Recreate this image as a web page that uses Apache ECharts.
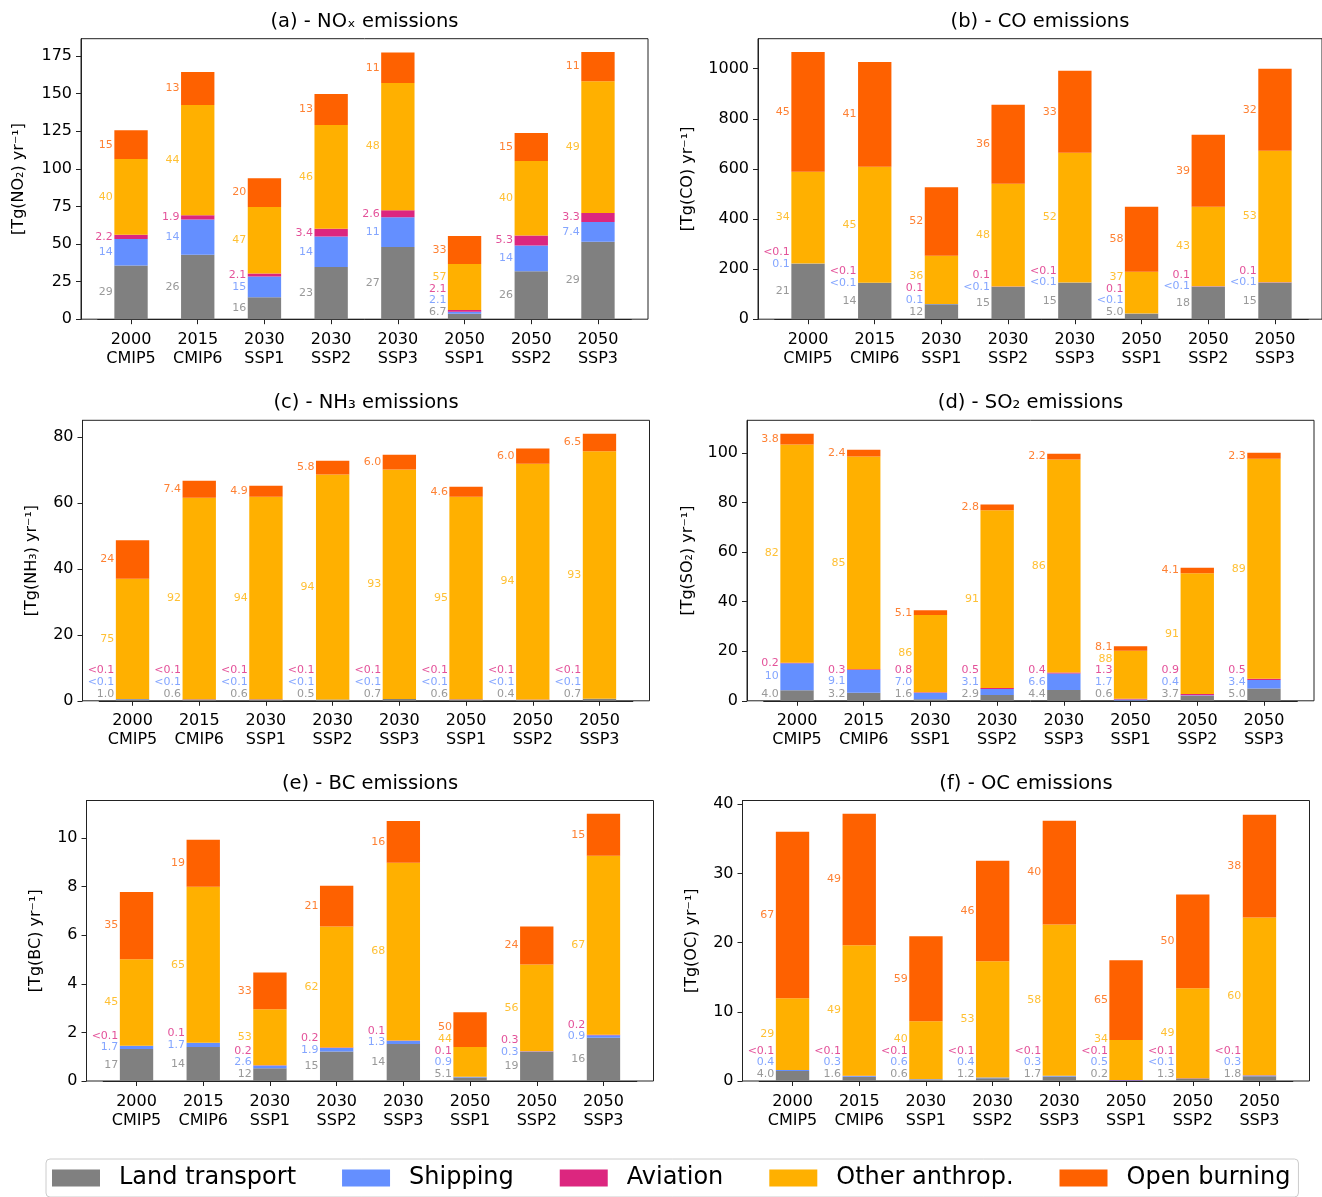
<!DOCTYPE html>
<html><head><meta charset="utf-8">
<script src="https://cdn.jsdelivr.net/npm/echarts@6/dist/echarts.min.js"></script>
<style>html,body{margin:0;padding:0;background:#fff}#c{width:1322px;height:1197px}</style>
</head><body><div id="c"></div>
<script>
const categories = ['2000\nCMIP5','2015\nCMIP6','2030\nSSP1','2030\nSSP2','2030\nSSP3','2050\nSSP1','2050\nSSP2','2050\nSSP3'];
const sources = ['Land transport','Shipping','Aviation','Other anthrop.','Open burning'];
const colors = ['#808080','#648FFF','#DC267F','#FFB000','#FE6100'];

// (a) NOx [Tg(NO2)/yr]
const noxLand     = [35.8, 42.8, 14.6, 34.8, 48.0, 3.7, 31.9, 51.5];
const noxShip     = [17.6, 23.5, 13.8, 20.2, 19.8, 1.2, 17.1, 13.2];
const noxAviation = [2.7, 2.9, 2.0, 5.1, 4.7, 1.2, 6.6, 5.9];
const noxOther    = [50.4, 73.2, 44.3, 69.1, 84.6, 30.7, 49.6, 87.7];
const noxOpen     = [19.2, 22.0, 19.0, 20.6, 20.3, 18.6, 18.6, 19.4];
const noxLandPct  = ['29','26','16','23','27','6.7','26','29'];
const noxShipPct  = ['14','14','15','14','11','2.1','14','7.4'];
const noxAvPct    = ['2.2','1.9','2.1','3.4','2.6','2.1','5.3','3.3'];
const noxOtherPct = ['40','44','47','46','48','57','40','49'];
const noxOpenPct  = ['15','13','20','13','11','33','15','11'];
const noxTicks = [0,25,50,75,100,125,150,175];

// (b) CO
const coLand     = [221, 145, 60, 129, 146, 22, 130, 146];
const coShip     = [1.1, 0.5, 0.6, 0.4, 0.5, 0.3, 0.4, 0.5];
const coAviation = [0.5, 0.5, 0.5, 0.8, 0.5, 0.4, 0.8, 1.0];
const coOther    = [366, 462.5, 192, 411, 517.4, 166.6, 317.5, 525];
const coOpen     = [478, 418.1, 274.2, 315, 327.6, 259.4, 287.7, 327.5];
const coLandPct  = ['21','14','12','15','15','5.0','18','15'];
const coShipPct  = ['0.1','<0.1','0.1','<0.1','<0.1','<0.1','<0.1','<0.1'];
const coAvPct    = ['<0.1','<0.1','0.1','0.1','<0.1','0.1','0.1','0.1'];
const coOtherPct = ['34','45','36','48','52','37','43','53'];
const coOpenPct  = ['45','41','52','36','33','58','39','32'];
const coTicks = [0,200,400,600,800,1000];

// (c) NH3
const nh3Land     = [0.5, 0.4, 0.4, 0.36, 0.52, 0.39, 0.31, 0.57];
const nh3Ship     = [0.03, 0.03, 0.03, 0.03, 0.03, 0.03, 0.03, 0.03];
const nh3Aviation = [0.03, 0.03, 0.03, 0.03, 0.03, 0.03, 0.03, 0.03];
const nh3Other    = [36.44, 61.14, 61.44, 68.18, 69.52, 61.45, 71.53, 75.07];
const nh3Open     = [11.7, 5.1, 3.3, 4.2, 4.5, 3.0, 4.6, 5.3];
const nh3LandPct  = ['1.0','0.6','0.6','0.5','0.7','0.6','0.4','0.7'];
const nh3ShipPct  = ['<0.1','<0.1','<0.1','<0.1','<0.1','<0.1','<0.1','<0.1'];
const nh3AvPct    = ['<0.1','<0.1','<0.1','<0.1','<0.1','<0.1','<0.1','<0.1'];
const nh3OtherPct = ['75','92','94','94','93','95','94','93'];
const nh3OpenPct  = ['24','7.4','4.9','5.8','6.0','4.6','6.0','6.5'];
const nh3Ticks = [0,20,40,60,80];

// (d) SO2
const so2Land     = [4.3, 3.2, 0.6, 2.3, 4.4, 0.13, 2.0, 5.0];
const so2Ship     = [10.9, 9.2, 2.6, 2.5, 6.6, 0.37, 0.2, 3.4];
const so2Aviation = [0.2, 0.3, 0.3, 0.4, 0.4, 0.29, 0.5, 0.5];
const so2Other    = [88.0, 85.9, 31.1, 71.7, 86.0, 19.4, 48.8, 88.8];
const so2Open     = [4.4, 2.7, 1.9, 2.3, 2.3, 1.8, 2.2, 2.4];
const so2LandPct  = ['4.0','3.2','1.6','2.9','4.4','0.6','3.7','5.0'];
const so2ShipPct  = ['10','9.1','7.0','3.1','6.6','1.7','0.4','3.4'];
const so2AvPct    = ['0.2','0.3','0.8','0.5','0.4','1.3','0.9','0.5'];
const so2OtherPct = ['82','85','86','91','86','88','91','89'];
const so2OpenPct  = ['3.8','2.4','5.1','2.8','2.2','8.1','4.1','2.3'];
const so2Ticks = [0,20,40,60,80,100];

// (e) BC
const bcLand     = [1.32, 1.40, 0.52, 1.21, 1.52, 0.14, 1.19, 1.78];
const bcShip     = [0.13, 0.17, 0.12, 0.15, 0.14, 0.03, 0.02, 0.10];
const bcAviation = [0.005, 0.01, 0.01, 0.02, 0.01, 0.003, 0.02, 0.02];
const bcOther    = [3.56, 6.42, 2.30, 4.98, 7.32, 1.23, 3.57, 7.37];
const bcOpen     = [2.77, 1.93, 1.52, 1.68, 1.72, 1.43, 1.56, 1.73];
const bcLandPct  = ['17','14','12','15','14','5.1','19','16'];
const bcShipPct  = ['1.7','1.7','2.6','1.9','1.3','0.9','0.3','0.9'];
const bcAvPct    = ['<0.1','0.1','0.2','0.2','0.1','0.1','0.3','0.2'];
const bcOtherPct = ['45','65','53','62','68','44','56','67'];
const bcOpenPct  = ['35','19','33','21','16','50','24','15'];
const bcTicks = [0,2,4,6,8,10];

// (f) OC
const ocLand     = [1.44, 0.62, 0.13, 0.38, 0.64, 0.035, 0.35, 0.69];
const ocShip     = [0.14, 0.12, 0.13, 0.13, 0.11, 0.09, 0.02, 0.12];
const ocAviation = [0.02, 0.02, 0.01, 0.01, 0.01, 0.005, 0.01, 0.01];
const ocOther    = [10.36, 18.84, 8.37, 16.77, 21.86, 5.78, 13.02, 22.81];
const ocOpen     = [24.04, 19.0, 12.26, 14.55, 14.98, 11.52, 13.54, 14.83];
const ocLandPct  = ['4.0','1.6','0.6','1.2','1.7','0.2','1.3','1.8'];
const ocShipPct  = ['0.4','0.3','0.6','0.4','0.3','0.5','<0.1','0.3'];
const ocAvPct    = ['<0.1','<0.1','<0.1','<0.1','<0.1','<0.1','<0.1','<0.1'];
const ocOtherPct = ['29','49','40','53','58','34','49','60'];
const ocOpenPct  = ['67','49','59','46','40','65','50','38'];
const ocTicks = [0,10,20,30,40];

const panels = [
  {title:'(a) - NOₓ emissions', yName:'[Tg(NO₂) yr⁻¹]', vals:[noxLand,noxShip,noxAviation,noxOther,noxOpen], pcts:[noxLandPct,noxShipPct,noxAvPct,noxOtherPct,noxOpenPct], ticks:noxTicks, left:81, top:38.7, nameGap:54},
  {title:'(b) - CO emissions', yName:'[Tg(CO) yr⁻¹]', vals:[coLand,coShip,coAviation,coOther,coOpen], pcts:[coLandPct,coShipPct,coAvPct,coOtherPct,coOpenPct], ticks:coTicks, left:758, top:38.7, nameGap:62},
  {title:'(c) - NH₃ emissions', yName:'[Tg(NH₃) yr⁻¹]', vals:[nh3Land,nh3Ship,nh3Aviation,nh3Other,nh3Open], pcts:[nh3LandPct,nh3ShipPct,nh3AvPct,nh3OtherPct,nh3OpenPct], ticks:nh3Ticks, left:82.5, top:420.3, nameGap:43},
  {title:'(d) - SO₂ emissions', yName:'[Tg(SO₂) yr⁻¹]', vals:[so2Land,so2Ship,so2Aviation,so2Other,so2Open], pcts:[so2LandPct,so2ShipPct,so2AvPct,so2OtherPct,so2OpenPct], ticks:so2Ticks, left:747, top:420.3, nameGap:51.5},
  {title:'(e) - BC emissions', yName:'[Tg(BC) yr⁻¹]', vals:[bcLand,bcShip,bcAviation,bcOther,bcOpen], pcts:[bcLandPct,bcShipPct,bcAvPct,bcOtherPct,bcOpenPct], ticks:bcTicks, left:86.5, top:800.5, nameGap:42.5},
  {title:'(f) - OC emissions', yName:'[Tg(OC) yr⁻¹]', vals:[ocLand,ocShip,ocAviation,ocOther,ocOpen], pcts:[ocLandPct,ocShipPct,ocAvPct,ocOtherPct,ocOpenPct], ticks:ocTicks, left:742.5, top:800.5, nameGap:43}
];

const W = 567, H = 280.5;
const band = W / 8.5;
const inset = band * 0.25;

const option = {
  animation: false,
  backgroundColor: '#fff',
  textStyle: {fontFamily: 'DejaVu Sans'},
  grid: [], xAxis: [], yAxis: [], series: [],
  legend: {
    data: sources, left: 46, top: 1159, orient: 'horizontal',
    itemWidth: 48, itemHeight: 17, itemGap: 46, icon: 'rect',
    padding: [7, 8, 7, 6], borderColor: '#cccccc', borderWidth: 1, borderRadius: 4,
    textStyle: {fontSize: 24, color: '#000', padding: [0, 0, 0, 14]},
    selectedMode: false
  }
};

panels.forEach((p, i) => {
  const totals = categories.map((_, j) => p.vals.reduce((s, a) => s + a[j], 0));
  const ymax = 1.05 * Math.max(...totals);
  const outer = 2 * i, inner = 2 * i + 1;
  option.grid.push({left: p.left, top: p.top, width: W, height: H, show: true, borderColor: '#222', borderWidth: 1});
  option.grid.push({left: p.left + inset, top: p.top, width: W - 2 * inset, height: H});
  option.xAxis.push({gridIndex: outer, type: 'value', min: 0, max: 1, position: 'top',
    name: p.title, nameLocation: 'middle', nameGap: 7,
    nameTextStyle: {fontSize: 19.5, color: '#000', verticalAlign: 'bottom'},
    axisLine: {show: false}, axisTick: {show: false}, axisLabel: {show: false}, splitLine: {show: false}});
  option.xAxis.push({gridIndex: inner, type: 'category', data: categories,
    axisLine: {show: true, lineStyle: {color: '#222'}},
    axisTick: {show: true, alignWithLabel: true, length: 5, lineStyle: {color: '#222'}},
    axisLabel: {color: '#000', fontSize: 16, lineHeight: 19, margin: 11, interval: 0}});
  option.yAxis.push({gridIndex: outer, type: 'value', min: 0, max: ymax,
    interval: p.ticks[1] - p.ticks[0],
    name: p.yName, nameLocation: 'middle', nameRotate: 90, nameGap: p.nameGap,
    nameTextStyle: {fontSize: 16, color: '#000'},
    axisLine: {show: true, lineStyle: {color: '#222'}},
    axisTick: {show: true, length: 5, customValues: p.ticks, lineStyle: {color: '#222'}},
    axisLabel: {fontSize: 16, color: '#000', margin: 9, customValues: p.ticks, formatter: v => String(v)},
    splitLine: {show: false}});
  option.yAxis.push({gridIndex: inner, type: 'value', min: 0, max: ymax, show: false});

  sources.forEach((s, k) => {
    option.series.push({type: 'bar', name: s, xAxisIndex: inner, yAxisIndex: inner,
      stack: 'p' + i, barWidth: '50%', data: p.vals[k],
      itemStyle: {color: colors[k]}, emphasis: {disabled: true}});
  });

  // percentage label positions: segment middle, pushed up to avoid overlaps
  const gapU = 11.7 / H * ymax, firstU = 6.9 / H * ymax;
  const labelY = sources.map(() => []);
  categories.forEach((c, j) => {
    let base = 0, prev = -Infinity;
    sources.forEach((s, k) => {
      const v = p.vals[k][j];
      const mid = base + v / 2;
      const y = k === 0 ? Math.max(mid, firstU) : Math.max(mid, prev + gapU);
      labelY[k].push(y); prev = y; base += v;
    });
  });
  sources.forEach((s, k) => {
    option.series.push({type: 'scatter', name: 'lbl', xAxisIndex: inner, yAxisIndex: inner,
      symbolSize: 0, silent: true, z: 5,
      itemStyle: {color: 'transparent'},
      data: labelY[k].map((y, j) => ({value: [j, y], label: {formatter: p.pcts[k][j]}})),
      label: {show: true, position: 'left', distance: band * 0.25 + 1.5, color: colors[k], fontSize: 11}});
  });
});

const chart = echarts.init(document.getElementById('c'));
chart.setOption(option);
</script>
</body></html>
